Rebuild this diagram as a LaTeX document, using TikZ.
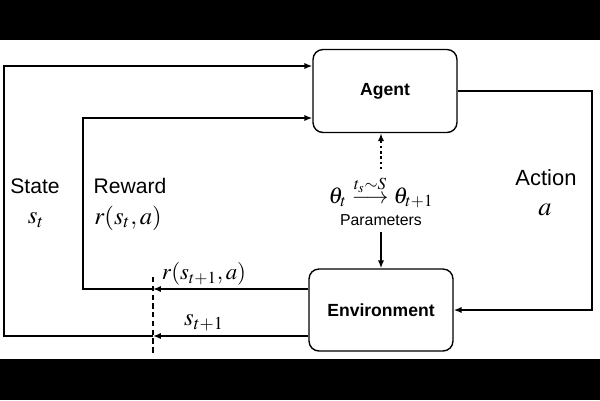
\documentclass[tikz,border=0pt]{standalone}
\usepackage{amsmath}
\usepackage{mathptmx}
\usepackage[no-math]{fontspec}
\setmainfont{Liberation Sans}
\usetikzlibrary{arrows.meta}

\begin{document}
\begin{tikzpicture}[x=0.02cm,y=-0.02cm,line width=0.8pt]
    \tikzset{boite/.style={draw, rounded corners=0.2cm, minimum width=2.88cm, minimum height=1.66cm, font=\fontsize{10}{12}\selectfont\bfseries}}
    \tikzset{fleche/.style={-{Latex[length=4.5pt,width=3.5pt]}}}
    \tikzset{texte/.style={font=\fontsize{12}{14}\selectfont}}
    \tikzset{maths/.style={font=\fontsize{14}{16}\selectfont}}
    \useasboundingbox (0,0) rectangle (600,400);
    \fill (0,0) rectangle (600,40);
    \fill (0,359) rectangle (600,400);
    \node[boite] (Agent) at (385, 91) {Agent};
    \node[boite, minimum height=1.64cm] (Env) at (381, 310) {Environment};
    \coordinate (R1) at (153, 289);
    \coordinate (R2) at (83, 118);
    \coordinate (S1) at (153, 336);
    \coordinate (S2) at (4, 66);
    \coordinate (A1) at (592, 200);
    \coordinate (D1) at (153, 277);
    \coordinate (D2) at (153, 353);
    \draw[fleche] (Env.west |- R1) -- (R1);
    \draw[fleche] (R1) -| (R2) -- (Agent.west |- R2);
    \draw[fleche] (Env.west |- S1) -- (S1);
    \draw[fleche] (S1) -| (S2) -- (Agent.west |- S2);
    \draw[fleche] (Agent.east) -| (A1) |- (Env.east);
    \draw[line width=1.5pt, dash pattern=on 3pt off 2pt] (D1) -- (D2);
    \node[font=\fontsize{13}{15}\selectfont] (Theta) at (381, 192) {$\theta_t \overset{t_s\sim S}{\longrightarrow} \theta_{t+1}$};
    \node[font=\fontsize{9}{11}\selectfont] (Param) at (381, 220) {Parameters};
    \draw[fleche, line width=1.2pt, dash pattern=on 1.5pt off 1.5pt] (Theta.north) -- (Theta |- Agent.south);
    \draw[fleche] (Param.south) -- (Param |- Env.north);
    \node[texte] (State) at (35, 186) {State};
    \node[maths] (st) at (36, 220) {$s_t$};
    \node[texte] (Reward) at (130, 186) {Reward};
    \node[maths] (rst) at (128, 218) {$r(s_t, a)$};
    \node[texte, font=\fontsize{12.5}{14}\selectfont] (Action) at (546, 178) {Action};
    \node[maths, font=\fontsize{15}{17}\selectfont] (a) at (545, 210) {$a$};
    \node[maths, font=\fontsize{13}{15}\selectfont] (rst1) at (204, 274) {$r(s_{t+1}, a)$};
    \node[maths] (st1) at (204, 323) {$s_{t+1}$};
\end{tikzpicture}
\end{document}
